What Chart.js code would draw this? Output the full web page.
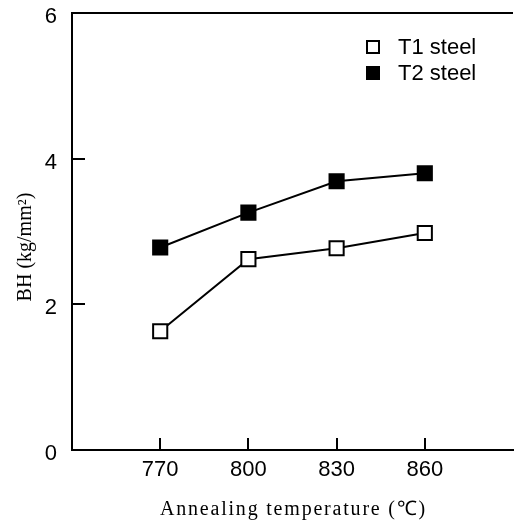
<!DOCTYPE html>
<html>
<head>
<meta charset="utf-8">
<script src="https://cdn.jsdelivr.net/npm/chart.js@4/dist/chart.umd.min.js"></script>
<style>
  html, body { margin: 0; padding: 0; background: #fff; }
  #wrap { width: 514px; height: 522px; }
</style>
</head>
<body>
<div id="wrap"><canvas id="c" width="514" height="522"></canvas></div>
<script>
// Annealing temperatures (°C) and bake-hardening values (kg/mm²)
const temperatures = [770, 800, 830, 860];
const t1Steel = [1.63, 2.62, 2.77, 2.98];
const t2Steel = [2.78, 3.26, 3.69, 3.8];
const seriesNames = ['T1 steel', 'T2 steel'];
const xTickValues = [770, 800, 830, 860];
const yTickValues = [0, 2, 4, 6];
const xTitle = 'Annealing temperature (℃)';
const yTitle = 'BH (kg/mm²)';

const toPoints = (ys) => temperatures.map((t, i) => ({ x: t, y: ys[i] }));

// Inward tick marks, top frame line, legend and axis titles
const decorations = {
  id: 'decorations',
  afterDraw(chart) {
    const { ctx, chartArea: a, scales: { x, y } } = chart;
    ctx.save();
    ctx.strokeStyle = '#000';
    ctx.lineWidth = 2;
    // top frame line
    ctx.beginPath();
    ctx.moveTo(a.left - 1, a.top);
    ctx.lineTo(a.right, a.top);
    ctx.stroke();
    // x ticks pointing up into the plot
    xTickValues.forEach(v => {
      const px = Math.round(x.getPixelForValue(v));
      ctx.beginPath();
      ctx.moveTo(px, a.bottom);
      ctx.lineTo(px, a.bottom - 12);
      ctx.stroke();
    });
    // y ticks pointing right, skipping the ends
    yTickValues.filter(v => v > y.min && v < y.max).forEach(v => {
      const py = Math.round(y.getPixelForValue(v));
      ctx.beginPath();
      ctx.moveTo(a.left, py);
      ctx.lineTo(a.left + 13, py);
      ctx.stroke();
    });
    // legend
    ctx.font = '22px "Liberation Sans", Arial, sans-serif';
    ctx.textBaseline = 'middle';
    chart.data.datasets.forEach((ds, i) => {
      const cx = a.left + 301, cy = a.top + 34 + i * 26;
      ctx.lineWidth = 2;
      ctx.fillStyle = ds.pointBackgroundColor;
      ctx.fillRect(cx - 6, cy - 6, 12, 12);
      ctx.strokeRect(cx - 6, cy - 6, 12, 12);
      ctx.fillStyle = '#000';
      ctx.fillText(ds.label, a.left + 326, cy + 1);
    });
    // x-axis title
    ctx.fillStyle = '#000';
    ctx.textAlign = 'center';
    ctx.textBaseline = 'alphabetic';
    ctx.font = '20px "Liberation Serif", "Times New Roman", serif';
    ctx.letterSpacing = '1.8px';
    ctx.fillText(xTitle, (a.left + a.right) / 2 + 1, 515);
    // y-axis title
    ctx.letterSpacing = '0px';
    ctx.translate(31, a.top + 234);
    ctx.rotate(-Math.PI / 2);
    ctx.font = '20px "Liberation Serif", "Times New Roman", serif';
    ctx.fillText(yTitle, 0, 0);
    ctx.restore();
  }
};

new Chart(document.getElementById('c'), {
  type: 'line',
  data: {
    datasets: [
      {
        label: seriesNames[0],
        data: toPoints(t1Steel),
        borderColor: '#000',
        borderWidth: 2,
        pointStyle: 'rect',
        pointRadius: 10,
        pointBorderWidth: 2,
        pointBorderColor: '#000',
        pointBackgroundColor: '#fff',
        tension: 0
      },
      {
        label: seriesNames[1],
        data: toPoints(t2Steel),
        borderColor: '#000',
        borderWidth: 2,
        pointStyle: 'rect',
        pointRadius: 10,
        pointBorderWidth: 2,
        pointBorderColor: '#000',
        pointBackgroundColor: '#000',
        tension: 0
      }
    ]
  },
  options: {
    responsive: false,
    animation: false,
    events: [],
    layout: { padding: { top: 13, right: 1, left: 0, bottom: 0 }, autoPadding: false },
    plugins: { legend: { display: false }, tooltip: { enabled: false } },
    scales: {
      x: {
        type: 'linear',
        min: 740,
        max: 890,
        afterBuildTicks: (s) => { s.ticks = xTickValues.map(v => ({ value: v })); },
        afterFit: (s) => { s.height = 72; s.paddingLeft = 0; s.paddingRight = 0; },
        grid: { display: false, drawTicks: false },
        border: { display: true, color: '#000', width: 2 },
        ticks: {
          color: '#000',
          padding: 7,
          font: { family: '"Liberation Sans", Arial, sans-serif', size: 22 }
        }
      },
      y: {
        min: 0,
        max: 6,
        afterBuildTicks: (s) => { s.ticks = yTickValues.map(v => ({ value: v })); },
        afterFit: (s) => { s.width = 72; s.paddingTop = 0; s.paddingBottom = 0; },
        grid: { display: false, drawTicks: false },
        border: { display: true, color: '#000', width: 2 },
        ticks: {
          color: '#000',
          padding: 15,
          labelOffset: 4,
          font: { family: '"Liberation Sans", Arial, sans-serif', size: 22 }
        }
      }
    }
  },
  plugins: [decorations]
});
</script>
</body>
</html>
